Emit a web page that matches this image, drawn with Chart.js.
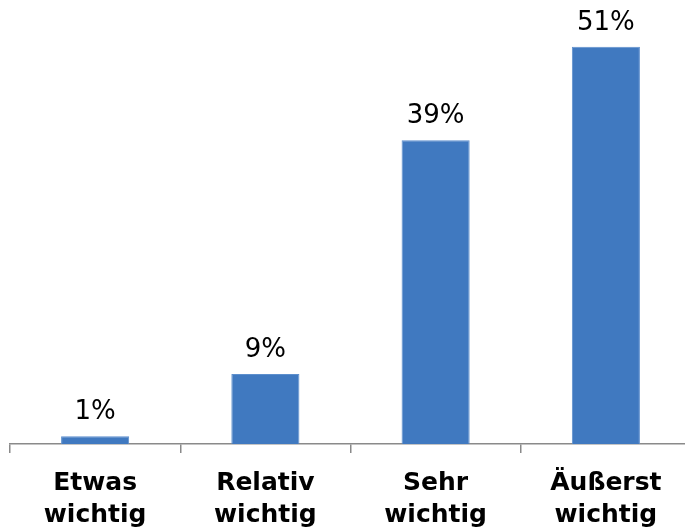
<!DOCTYPE html>
<html>
<head>
    <title>Wichtigkeit</title>
    <script src="https://cdn.jsdelivr.net/npm/chart.js"></script>
    <style>
        body { margin: 0; overflow: hidden; background: #fff; }
    </style>
</head>
<body>
    <canvas id="importanceChart" width="700" height="527"></canvas>

    <script>
        // Survey answers, share of respondents in percent
        const categories = [['Etwas', 'wichtig'], ['Relativ', 'wichtig'], ['Sehr', 'wichtig'], ['Äußerst', 'wichtig']];
        const shares = [1, 9, 39, 51];

        // Writes "xx%" above each bar
        const valueLabels = {
            id: 'valueLabels',
            afterDatasetsDraw(chart) {
                const ctx = chart.ctx;
                const meta = chart.getDatasetMeta(0);
                ctx.save();
                ctx.font = '26px "DejaVu Sans", Verdana, sans-serif';
                ctx.fillStyle = '#000';
                ctx.textAlign = 'center';
                ctx.textBaseline = 'alphabetic';
                meta.data.forEach((bar, i) => {
                    ctx.fillText(shares[i] + '%', bar.x, bar.y - 17);
                });
                ctx.restore();
            }
        };

        const ctx = document.getElementById('importanceChart').getContext('2d');
        const importanceChart = new Chart(ctx, {
            type: 'bar',
            data: {
                labels: categories,
                datasets: [{
                    data: shares,
                    backgroundColor: '#4079c0',
                    borderColor: '#5d8fcd',
                    borderWidth: 1,
                    barPercentage: 0.4,
                    categoryPercentage: 1
                }]
            },
            options: {
                responsive: false,
                animation: false,
                layout: { padding: { left: 10, right: 9, top: 0, bottom: 0 } },
                plugins: {
                    legend: { display: false },
                    tooltip: { enabled: false }
                },
                scales: {
                    x: {
                        offset: true,
                        grid: {
                            offset: true,
                            drawOnChartArea: false,
                            drawTicks: true,
                            tickLength: 9,
                            color: '#8a8a8a',
                            lineWidth: 1.5
                        },
                        border: { color: '#8a8a8a', width: 1.5 },
                        ticks: {
                            color: '#000',
                            padding: 14,
                            maxRotation: 0,
                            font: { family: '"DejaVu Sans", Verdana, sans-serif', size: 25, weight: 'bold', lineHeight: 1.28 }
                        },
                        afterFit(scale) { scale.height = 83; }
                    },
                    y: {
                        display: false,
                        min: 0,
                        max: 57
                    }
                }
            },
            plugins: [valueLabels]
        });
    </script>
</body>
</html>
